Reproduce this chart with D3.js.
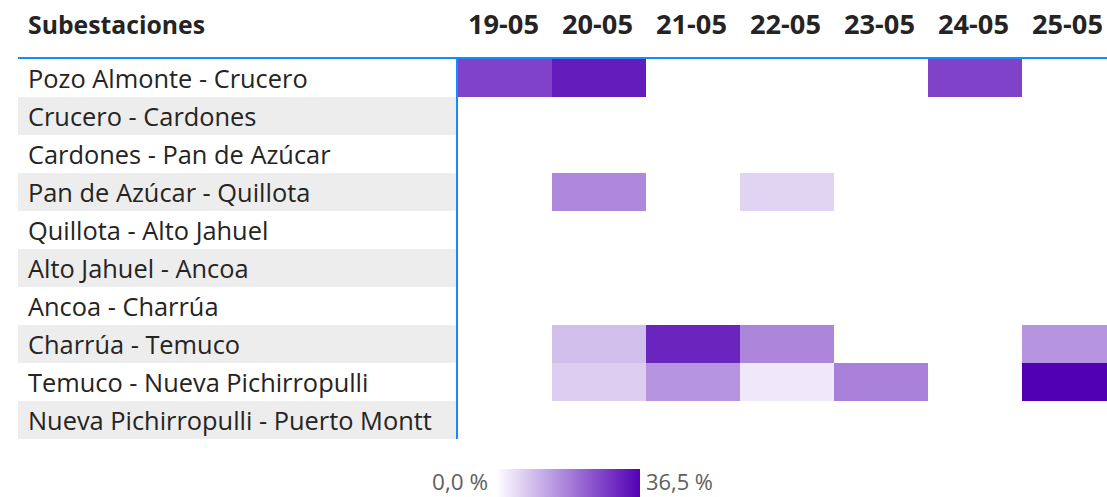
<!DOCTYPE html>
<html>
<head>
<meta charset="utf-8">
<script src="https://cdn.jsdelivr.net/npm/d3@7"></script>
<style>
  html, body { margin: 0; padding: 0; background: #fff; overflow: hidden; }
  svg { display: block; }
</style>
</head>
<body>
<svg id="chart" width="1107" height="497"></svg>
<script>
// ---- Data ----
const headerTitle = "Subestaciones";
const dates = ["19-05", "20-05", "21-05", "22-05", "23-05", "24-05", "25-05"];
const substations = [
  "Pozo Almonte - Crucero",
  "Crucero - Cardones",
  "Cardones - Pan de Azúcar",
  "Pan de Azúcar - Quillota",
  "Quillota - Alto Jahuel",
  "Alto Jahuel - Ancoa",
  "Ancoa - Charrúa",
  "Charrúa - Temuco",
  "Temuco - Nueva Pichirropulli",
  "Nueva Pichirropulli - Puerto Montt"
];
// percent values per substation, one per date (null = no data)
const rowPozo      = [27.0, 32.5, null, null, null, 27.0, null];
const rowCrucero   = [null, null, null, null, null, null, null];
const rowCardones  = [null, null, null, null, null, null, null];
const rowPan       = [null, 17.0, null, 6.3, null, null, null];
const rowQuillota  = [null, null, null, null, null, null, null];
const rowAltoJ     = [null, null, null, null, null, null, null];
const rowAncoa     = [null, null, null, null, null, null, null];
const rowCharrua   = [null, 9.2, 31.2, 17.3, null, null, 15.3];
const rowTemuco    = [null, 7.2, 15.3, 3.3, 18.3, null, 36.5];
const rowNueva     = [null, null, null, null, null, null, null];
const values = [rowPozo, rowCrucero, rowCardones, rowPan, rowQuillota,
                rowAltoJ, rowAncoa, rowCharrua, rowTemuco, rowNueva];
const legendMin = 0.0;
const legendMax = 36.5;
const legendLabels = ["0,0 %", "36,5 %"];

// ---- Layout ----
const svg = d3.select("#chart");
const font = "'Open Sans', 'Noto Sans', sans-serif";
const textColor = "#252423";
const accent = "#118DFF";

const tableLeft = 18, labelX = 28;
const gridLeft = 458, colW = 94, headerLineY = 57, rowTop = 59, rowH = 38;

const x = d3.scaleBand().domain(dates).range([gridLeft, gridLeft + colW * dates.length]).padding(0);
const y = d3.scaleBand().domain(substations).range([rowTop, rowTop + rowH * substations.length]).padding(0);
const color = d3.scaleLinear().domain([legendMin, legendMax]).range(["#ffffff", "#5200b4"]).interpolate(d3.interpolateRgb);

function fitFont(sel, base, target) {
  let w = 0;
  sel.each(function () { w = Math.max(w, this.getComputedTextLength()); });
  sel.style("font-size", (base * target / w) + "px");
}

// alternating row bands in label column
svg.append("g").selectAll("rect")
  .data(substations)
  .join("rect")
  .attr("x", tableLeft)
  .attr("y", d => y(d))
  .attr("width", gridLeft - 2 - tableLeft)
  .attr("height", y.bandwidth())
  .attr("fill", (d, i) => i % 2 === 1 ? "#ededed" : "#ffffff");

// cells
const cells = [];
substations.forEach((s, i) => dates.forEach((d, j) => {
  const v = values[i][j];
  if (v !== null && v !== undefined) cells.push({ s, d, v });
}));
svg.append("g").selectAll("rect")
  .data(cells)
  .join("rect")
  .attr("x", c => x(c.d))
  .attr("y", c => y(c.s))
  .attr("width", x.bandwidth())
  .attr("height", y.bandwidth())
  .attr("fill", c => color(c.v));

// row labels
const labels = svg.append("g").selectAll("text")
  .data(substations)
  .join("text")
  .attr("x", labelX)
  .attr("y", d => y(d) + y.bandwidth() / 2 + 1)
  .attr("dy", "0.35em")
  .attr("fill", textColor)
  .style("font-family", font)
  .style("font-size", "22px")
  .text(d => d);
fitFont(labels, 22, 404);

// header
const header = svg.append("g");
const title = header.append("text")
  .attr("x", labelX)
  .attr("y", 34)
  .attr("fill", textColor)
  .style("font-family", font)
  .style("font-weight", "bold")
  .style("font-size", "22px")
  .text(headerTitle);
fitFont(title, 22, 177);
const dateTexts = header.selectAll("text.date")
  .data(dates)
  .join("text")
  .attr("class", "date")
  .attr("x", d => x(d) + x.bandwidth() / 2 - 1.5)
  .attr("y", 34)
  .attr("text-anchor", "middle")
  .attr("fill", textColor)
  .style("font-family", font)
  .style("font-weight", "bold")
  .style("font-size", "22px")
  .text(d => d);
fitFont(dateTexts, 22, 71);

// separator lines
svg.append("rect")
  .attr("x", tableLeft).attr("y", headerLineY)
  .attr("width", 1107 - tableLeft).attr("height", 2)
  .attr("fill", accent);
svg.append("rect")
  .attr("x", gridLeft - 2).attr("y", headerLineY)
  .attr("width", 2).attr("height", y.range()[1] - headerLineY)
  .attr("fill", accent);

// legend
const defs = svg.append("defs");
const grad = defs.append("linearGradient").attr("id", "lg").attr("x1", "0%").attr("x2", "100%");
d3.range(0, 1.0001, 0.1).forEach(t => {
  grad.append("stop").attr("offset", (t * 100) + "%").attr("stop-color", color(legendMin + t * (legendMax - legendMin)));
});
const lgX = d3.scaleLinear().domain([legendMin, legendMax]).range([496, 640]);
svg.append("rect")
  .attr("x", lgX(legendMin)).attr("y", 469)
  .attr("width", lgX(legendMax) - lgX(legendMin)).attr("height", 28)
  .attr("fill", "url(#lg)");
const lgMinT = svg.append("text")
  .attr("x", lgX(legendMin) - 8).attr("y", 490)
  .attr("text-anchor", "end")
  .attr("fill", "#605e5c")
  .style("font-family", font).style("font-size", "20px")
  .text(legendLabels[0]);
fitFont(lgMinT, 20, 56);
const lgMaxT = svg.append("text")
  .attr("x", lgX(legendMax) + 6).attr("y", 490)
  .attr("fill", "#605e5c")
  .style("font-family", font).style("font-size", "20px")
  .text(legendLabels[1]);
fitFont(lgMaxT, 20, 67);
</script>
</body>
</html>
